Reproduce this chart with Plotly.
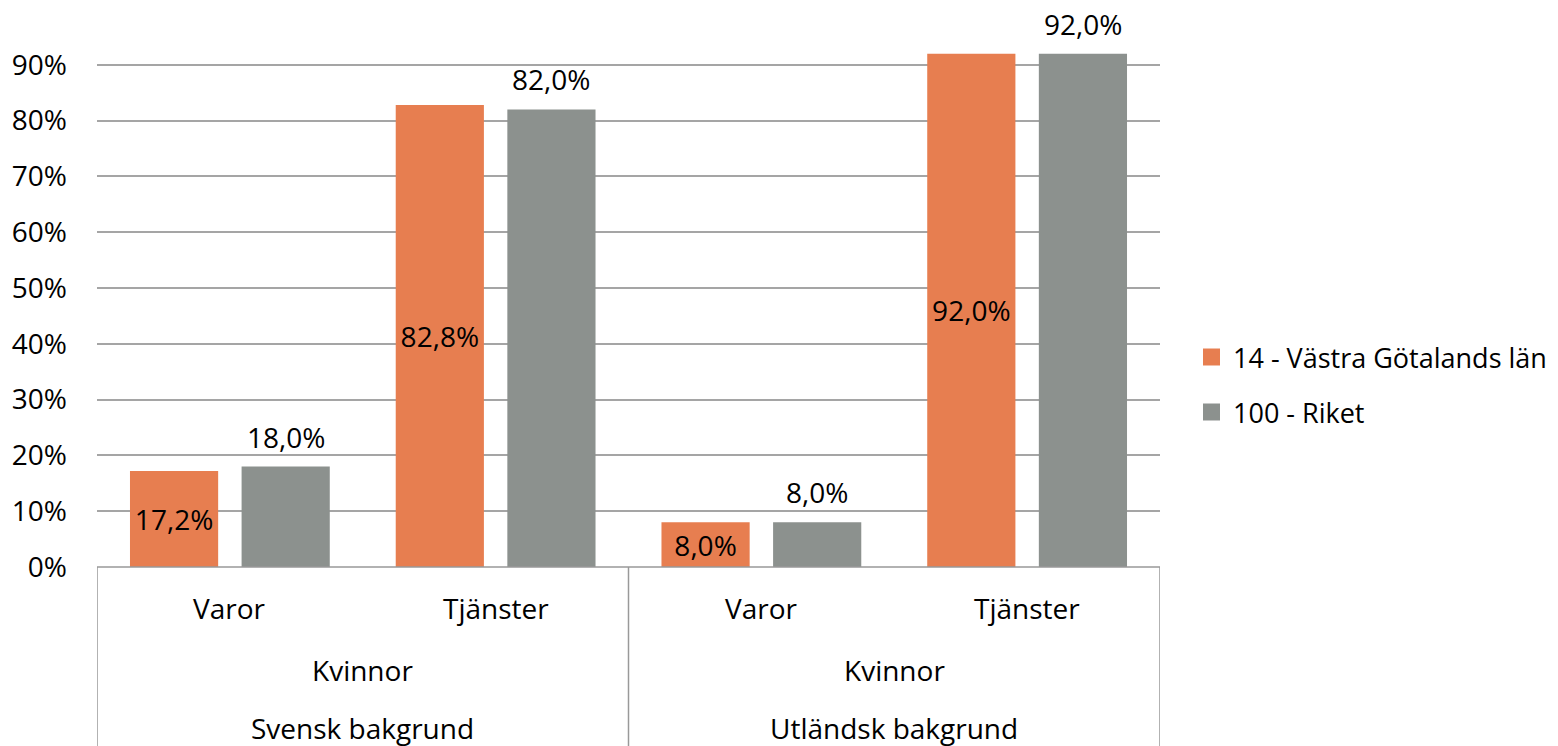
import plotly.graph_objects as go

# ---- data ----
level1 = ["Varor", "Tjänster", "Varor", "Tjänster"]
level2 = ["Kvinnor", "Kvinnor"]
level3 = ["Svensk bakgrund", "Utländsk bakgrund"]
series_names = ["14 - Västra Götalands län", "100 - Riket"]
vastra = [0.172, 0.828, 0.080, 0.920]
riket = [0.180, 0.820, 0.080, 0.920]
ytick_vals = [0, 0.1, 0.2, 0.3, 0.4, 0.5, 0.6, 0.7, 0.8, 0.9]
ytick_text = ["0%", "10%", "20%", "30%", "40%", "50%", "60%", "70%", "80%", "90%"]

colors = ["#E77E50", "#8C918E"]
FONT = "Open Sans"
FS = 28
LFS = 27
OFF = 8  # page body margin
W, H = 1558 - OFF, 746 - OFF
L, R, T, B = 97 - OFF, 398, 9 - OFF, 179
PW, PH = W - L - R, H - T - B
BARGAP, GROUPGAP = 0.16, 0.21

def fmt(v):
    return f"{v*100:.1f}".replace(".", ",") + "%"

xs = list(range(len(level1)))

fig = go.Figure()
fig.add_trace(go.Bar(
    x=xs, y=vastra, name=series_names[0], marker=dict(color=colors[0], line=dict(width=0)),
    text=[fmt(v) for v in vastra], textposition="inside", insidetextanchor="middle",
    textfont=dict(family=FONT, size=FS, color="#000000"), showlegend=False,
))
fig.add_trace(go.Bar(
    x=xs, y=riket, name=series_names[1], marker=dict(color=colors[1], line=dict(width=0)),
    showlegend=False,
))

# reference-page pixel -> paper coordinates
def py2paper(py):
    return (H - B - (py - OFF)) / PH

def px2paper(px):
    return (px - OFF - L) / PW

annotations = []
shapes = []
# outside labels for second series
slot_off = (1 - BARGAP) / 4
for xi, v in zip(xs, riket):
    annotations.append(dict(x=xi + slot_off, y=v, xref="x", yref="y", text=fmt(v), showarrow=False,
                            yanchor="bottom", yshift=9,
                            font=dict(family=FONT, size=FS, color="#000")))
# category labels
for i, lab in enumerate(level1):
    annotations.append(dict(x=i, y=py2paper(608), xref="x", yref="paper", text=lab, showarrow=False,
                            font=dict(family=FONT, size=FS, color="#000"), yanchor="middle"))
for j, lab in enumerate(level2):
    annotations.append(dict(x=2 * j + 0.5, y=py2paper(670), xref="x", yref="paper", text=lab, showarrow=False,
                            font=dict(family=FONT, size=FS, color="#000"), yanchor="middle"))
for j, lab in enumerate(level3):
    annotations.append(dict(x=2 * j + 0.5, y=py2paper(728), xref="x", yref="paper", text=lab, showarrow=False,
                            font=dict(family=FONT, size=FS, color="#000"), yanchor="middle"))
# category box lines
for xv in [-0.5, 1.5, 3.5]:
    shapes.append(dict(type="line", xref="x", yref="paper", x0=xv, x1=xv, y0=0, y1=-B / PH,
                       line=dict(color="#999999", width=1.5)))
shapes.append(dict(type="line", xref="paper", yref="paper", x0=0, x1=1, y0=0, y1=0,
                   line=dict(color="#999999", width=1.5)))

# manual legend
for k, (nm, c) in enumerate(zip(series_names, colors)):
    cy = 357 + 55 * k
    shapes.append(dict(type="rect", xref="paper", yref="paper",
                       x0=px2paper(1203), x1=px2paper(1220), y0=py2paper(cy + 8.5), y1=py2paper(cy - 8.5),
                       fillcolor=c, line=dict(width=0)))
    annotations.append(dict(x=px2paper(1231), y=py2paper(cy), xref="paper", yref="paper", text=nm,
                            showarrow=False, xanchor="left", yanchor="middle",
                            font=dict(family=FONT, size=LFS, color="#000")))

fig.update_layout(
    width=W, height=H,
    margin=dict(l=L, r=R, t=T, b=B, autoexpand=False),
    paper_bgcolor="white", plot_bgcolor="white",
    barmode="group", bargap=BARGAP, bargroupgap=GROUPGAP,
    font=dict(family=FONT, size=FS, color="#000"),
    xaxis=dict(range=[-0.5, 3.5], showticklabels=False, showgrid=False, zeroline=False, ticks=""),
    yaxis=dict(range=[0, 1.0], tickvals=ytick_vals, ticktext=ytick_text, showgrid=True,
               gridcolor="#a5a5a5", gridwidth=1.5, zeroline=False, showline=False,
               ticklabelstandoff=29, tickfont=dict(family=FONT, size=FS, color="#000")),
    annotations=annotations, shapes=shapes,
    uniformtext=dict(minsize=10, mode="show"),
)

fig.write_html("out.html")
